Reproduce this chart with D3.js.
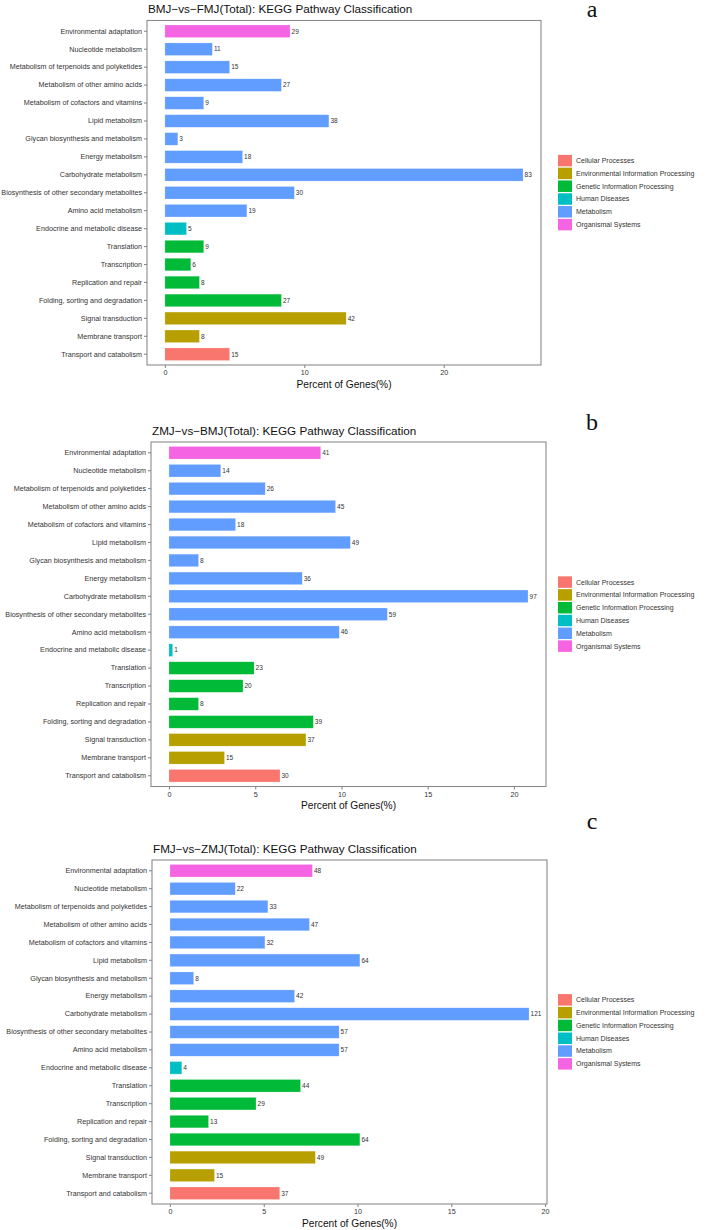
<!DOCTYPE html>
<html>
<head>
<meta charset="utf-8">
<script src="https://cdn.jsdelivr.net/npm/d3@7"></script>
<style>
  body { margin: 0; background: #fff; }
  text { font-family: "Liberation Sans", Arial, sans-serif; }
</style>
</head>
<body>
<div id="chart"></div>
<script>
// pathways, top to bottom
const pathways = [
    "Environmental adaptation",
    "Nucleotide metabolism",
    "Metabolism of terpenoids and polyketides",
    "Metabolism of other amino acids",
    "Metabolism of cofactors and vitamins",
    "Lipid metabolism",
    "Glycan biosynthesis and metabolism",
    "Energy metabolism",
    "Carbohydrate metabolism",
    "Biosynthesis of other secondary metabolites",
    "Amino acid metabolism",
    "Endocrine and metabolic disease",
    "Translation",
    "Transcription",
    "Replication and repair",
    "Folding, sorting and degradation",
    "Signal transduction",
    "Membrane transport",
    "Transport and catabolism"
];

const pathwayClass = [
    "Organismal Systems",
    "Metabolism", "Metabolism", "Metabolism", "Metabolism", "Metabolism",
    "Metabolism", "Metabolism", "Metabolism", "Metabolism", "Metabolism",
    "Human Diseases",
    "Genetic Information Processing", "Genetic Information Processing",
    "Genetic Information Processing", "Genetic Information Processing",
    "Environmental Information Processing", "Environmental Information Processing",
    "Cellular Processes"
];

const classes = [
    "Cellular Processes",
    "Environmental Information Processing",
    "Genetic Information Processing",
    "Human Diseases",
    "Metabolism",
    "Organismal Systems"
];
const classColors = ["#F8766D", "#B79F00", "#00BA38", "#00BFC4", "#619CFF", "#F564E3"];

// gene counts per pathway
const countsA = [29, 11, 15, 27, 9, 38, 3, 18, 83, 30, 19, 5, 9, 6, 8, 27, 42, 8, 15];
const countsB = [41, 14, 26, 45, 18, 49, 8, 36, 97, 59, 46, 1, 23, 20, 8, 39, 37, 15, 30];
const countsC = [48, 22, 33, 47, 32, 64, 8, 42, 121, 57, 57, 4, 44, 29, 13, 64, 49, 15, 37];

// annotated genes in each comparison (denominator of the percent)
const totals = [323, 466, 632];

const titles = [
    "BMJ\u2212vs\u2212FMJ(Total): KEGG Pathway Classification",
    "ZMJ\u2212vs\u2212BMJ(Total): KEGG Pathway Classification",
    "FMJ\u2212vs\u2212ZMJ(Total): KEGG Pathway Classification"
];
const panelLetters = ["a", "b", "c"];
const xTicks = [[0, 10, 20], [0, 5, 10, 15, 20], [0, 5, 10, 15, 20]];

const panels = [
    { counts: countsA, left: 147, right: 541, top: 20.5, bottom: 365, letterY: 17 },
    { counts: countsB, left: 151, right: 546, top: 442, bottom: 786.5, letterY: 430 },
    { counts: countsC, left: 152, right: 547, top: 860, bottom: 1204, letterY: 829 }
];

const frameColor = "#8a8a8a";
const textColor = "#333333";

const color = d3.scaleOrdinal().domain(classes).range(classColors);

const svg = d3.select("#chart")
              .append("svg")
              .attr("width", 707)
              .attr("height", 1230);

panels.forEach((p, i) => {
    const data = pathways.map((name, j) => ({
        name: name,
        cls: pathwayClass[j],
        count: p.counts[j],
        pct: p.counts[j] / totals[i] * 100
    }));
    const maxPct = d3.max(data, d => d.pct);

    // ggplot style 5% expansion
    const x = d3.scaleLinear()
                .domain([-0.05 * maxPct, 1.05 * maxPct])
                .range([p.left, p.right]);

    const y = d3.scaleBand()
                .domain(pathways)
                .range([p.top, p.bottom])
                .paddingInner(0.3)
                .paddingOuter(0.25);

    const g = svg.append("g");

    // title
    g.append("text")
     .attr("x", p.left + 1)
     .attr("y", p.top - 7.5)
     .attr("font-size", 11.7)
     .attr("fill", "#111")
     .text(titles[i]);

    // panel letter
    g.append("text")
     .attr("x", 592)
     .attr("y", p.letterY)
     .attr("text-anchor", "middle")
     .attr("font-size", 24)
     .style("font-family", "'Liberation Serif', 'Times New Roman', serif")
     .attr("fill", "#111")
     .text(panelLetters[i]);

    // bars
    g.selectAll("rect.bar")
     .data(data)
     .join("rect")
     .attr("class", "bar")
     .attr("x", x(0))
     .attr("y", d => y(d.name))
     .attr("width", d => x(d.pct) - x(0))
     .attr("height", y.bandwidth())
     .attr("fill", d => color(d.cls))
     .attr("stroke", "#ffffff")
     .attr("stroke-opacity", 0.45)
     .attr("stroke-width", 0.5);

    // value labels
    g.selectAll("text.val")
     .data(data)
     .join("text")
     .attr("class", "val")
     .attr("x", d => x(d.pct) + 1.5)
     .attr("y", d => y(d.name) + y.bandwidth() / 2)
     .attr("dy", "0.35em")
     .attr("font-size", 6.5)
     .attr("fill", textColor)
     .text(d => d.count);

    // frame
    g.append("rect")
     .attr("x", p.left)
     .attr("y", p.top)
     .attr("width", p.right - p.left)
     .attr("height", p.bottom - p.top)
     .attr("fill", "none")
     .attr("stroke", frameColor)
     .attr("stroke-width", 1.1);

    // y axis
    const yAxis = g.append("g")
                   .attr("transform", `translate(${p.left},0)`)
                   .call(d3.axisLeft(y).tickSize(3).tickPadding(2));
    yAxis.select(".domain").remove();
    yAxis.selectAll(".tick line").attr("stroke", frameColor).attr("stroke-width", 1.1);
    yAxis.selectAll(".tick text")
         .attr("font-size", 7.2)
         .attr("fill", textColor)
         .style("font-family", "'Liberation Sans', Arial, sans-serif");

    // x axis
    const xAxis = g.append("g")
                   .attr("transform", `translate(0,${p.bottom})`)
                   .call(d3.axisBottom(x).tickValues(xTicks[i]).tickSize(3).tickPadding(2));
    xAxis.select(".domain").remove();
    xAxis.selectAll(".tick line").attr("stroke", frameColor).attr("stroke-width", 1.1);
    xAxis.selectAll(".tick text")
         .attr("font-size", 7.2)
         .attr("fill", textColor)
         .style("font-family", "'Liberation Sans', Arial, sans-serif");

    g.append("text")
     .attr("x", (p.left + p.right) / 2)
     .attr("y", p.bottom + 22.5)
     .attr("text-anchor", "middle")
     .attr("font-size", 10.2)
     .attr("fill", "#111")
     .text("Percent of Genes(%)");

    // legend
    const keyH = 11.5, keyStep = 12.8;
    const legTop = (p.top + p.bottom) / 2 - keyStep * classes.length / 2 + 0.5;
    const leg = g.append("g").attr("transform", `translate(558,${legTop})`);
    classes.forEach((c, k) => {
        leg.append("rect")
           .attr("x", 0)
           .attr("y", k * keyStep)
           .attr("width", 14)
           .attr("height", keyH)
           .attr("fill", classColors[k]);
        leg.append("text")
           .attr("x", 18)
           .attr("y", k * keyStep + keyH / 2)
           .attr("dy", "0.35em")
           .attr("font-size", 7)
           .attr("fill", textColor)
           .text(c);
    });
});
</script>
</body>
</html>
